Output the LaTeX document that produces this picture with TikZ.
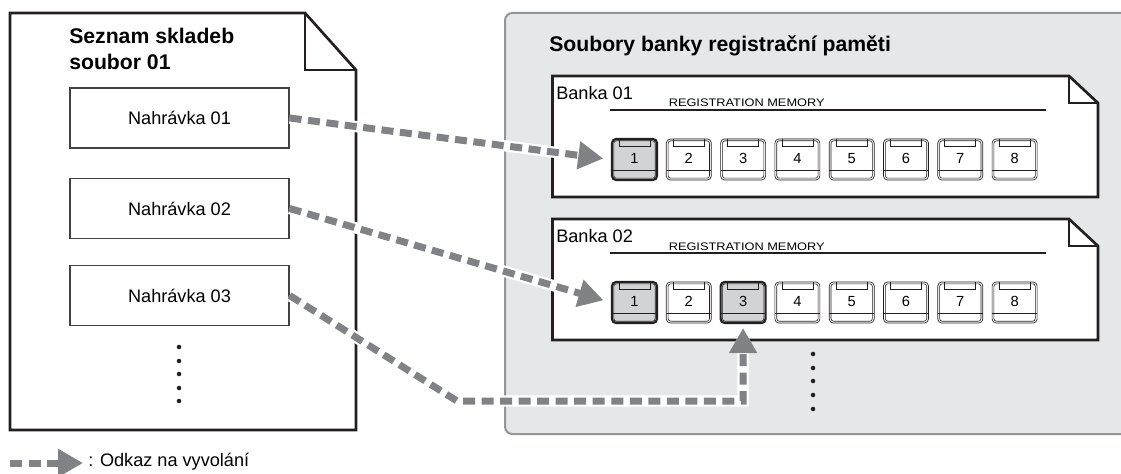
\documentclass[tikz,border=0pt]{standalone}
\usepackage{fontspec}
\setmainfont{Liberation Sans}
\newfontfamily\regfont[FakeStretch=1.17]{Liberation Sans}
\usepackage{tikz}
\usetikzlibrary{positioning, arrows.meta, calc}
\definecolor{tgray}{RGB}{128,130,133}
\definecolor{panelgray}{RGB}{230,231,232}
\definecolor{panelline}{RGB}{147,149,152}
\definecolor{keygray}{RGB}{209,211,212}
\definecolor{inkblack}{RGB}{35,31,32}
\newcommand\regcaps{\regfont\fontsize{8.2}{10}\selectfont}
\newcommand\regnum{\fontsize{11}{13}\selectfont}
\newcommand\titlefont{\bfseries\fontsize{15.9}{19.5}\selectfont}

\tikzset{
  recbox/.style={draw=inkblack!85, line width=0.9pt, fill=white, minimum width=164.25pt, minimum height=45pt, inner sep=0pt},
  keybase/.style={rounded corners=3pt, minimum width=33.75pt, minimum height=30.75pt, inner sep=0pt, font=\regnum,
    path picture={
      \draw[inkblack, line width=0.45pt, rounded corners=2pt] ($(path picture bounding box.north west)+(1.8,1.8)$) rectangle ($(path picture bounding box.south east)+(-1.8,-1.8)$);
      \draw[inkblack, line width=0.5pt, sharp corners] ($(path picture bounding box.north west)+(7,-1)$) rectangle ++(31,8);
      \draw[inkblack, line width=0.5pt] ($(path picture bounding box.south west)+(0,-10)$) -- ++(45,0);
    }},
  keyoff/.style={keybase, draw=inkblack, fill=white, line width=0.5pt},
  keyon/.style={keybase, draw=inkblack, fill=keygray, line width=1.6pt},
  recall/.style={draw=tgray, line width=5.25pt, dash pattern=on 9pt off 4.9pt,
    -{Triangle[length=18.75pt,width=20pt]}, preaction={draw=white, line width=8.5pt, solid}}
}

\begin{document}
\begin{tikzpicture}[x=0.75pt, y=-0.75pt, every node/.style={font=\fontsize{13.6}{16}\selectfont}]
  \useasboundingbox (0,0) rectangle (1121,474);

  % Gray panel for the bank files
  \draw[draw=panelline, fill=panelgray, line width=1.5pt, rounded corners=5.5pt] (1130,13) -- (505,13) -- (505,434) -- (1130,434);
  \node[anchor=base west, inner sep=0pt, font=\titlefont] (banktitle) at (549,52) {Soubory banky registrační paměti};

  % Song list sheet
  \draw[inkblack, line width=2pt, fill=white] (10,13) -- (305,13) -- (356,70) -- (356,430) -- (10,430) -- cycle;
  \draw[inkblack, line width=1pt] (305,13) -- (305,70) -- (356,70);
  \node[anchor=north west, inner sep=0pt, align=left, font=\titlefont] (listtitle) at (69,28) {Seznam skladeb\\soubor 01};

  % Recordings
  \node[recbox] (rec1) at (179.5,118) {Nahrávka 01};
  \node[recbox] (rec2) at (179.5,208.5) {Nahrávka 02};
  \node[recbox] (rec3) at (179.5,295.5) {Nahrávka 03};
  \foreach \y in {347,361,374,388,401}
    \fill[inkblack] (179,\y) circle (1.7pt);

  % Bank sheets with the eight memory buttons
  \foreach \b/\dy in {1/0, 2/143} {
    \draw[inkblack, line width=2pt, fill=white] (552.5,76+\dy) -- (1069,76+\dy) -- (1098,103+\dy) -- (1098,197+\dy) -- (552.5,197+\dy) -- cycle;
    \draw[inkblack, line width=1pt] (1069,76+\dy) -- (1069,103+\dy) -- (1098,103+\dy);
    \node[anchor=base west, inner sep=0pt] (bank\b) at (556,100+\dy) {Banka 0\b};
    \node[anchor=base west, inner sep=0pt, font=\regcaps] (reg\b) at (668.5,107+\dy) {REGISTRATION MEMORY};
    \draw[inkblack, line width=0.9pt] (610,110+\dy) -- (1046,110+\dy);
    \foreach \i in {1,...,8} {
      \pgfmathtruncatemacro\on{(\i==1)||(\b==2 && \i==3)}
      \ifnum\on=1 \def\kst{keyon}\else\def\kst{keyoff}\fi
      \node[\kst] (k\b-\i) at ({634.5+(\i-1)*54.3},159.5+\dy) {\raisebox{2pt}{\i}};
    }
  }
  \foreach \y in {354,368,381,395,409}
    \fill[inkblack] (813,\y) circle (1.7pt);

  % Recall links
  \draw[recall, shorten >=5.8pt] (rec1.east) -- (k1-1.west);
  \draw[recall, shorten >=5.8pt] (rec2.east) -- (k2-1.west);
  \coordinate (turn) at (457,401);
  \draw[recall, shorten >=3pt] (rec3.east) -- (turn) -- (turn -| k2-3.south) -- (k2-3.south);

  % Legend
  \coordinate (legtail) at (10,463);
  \coordinate (leghead) at (83,463);
  \draw[recall] (legtail) -- (leghead);
  \node[anchor=base west, inner sep=0pt] (legtext) at (88,466) {: Odkaz na vyvolání};
\end{tikzpicture}
\end{document}
